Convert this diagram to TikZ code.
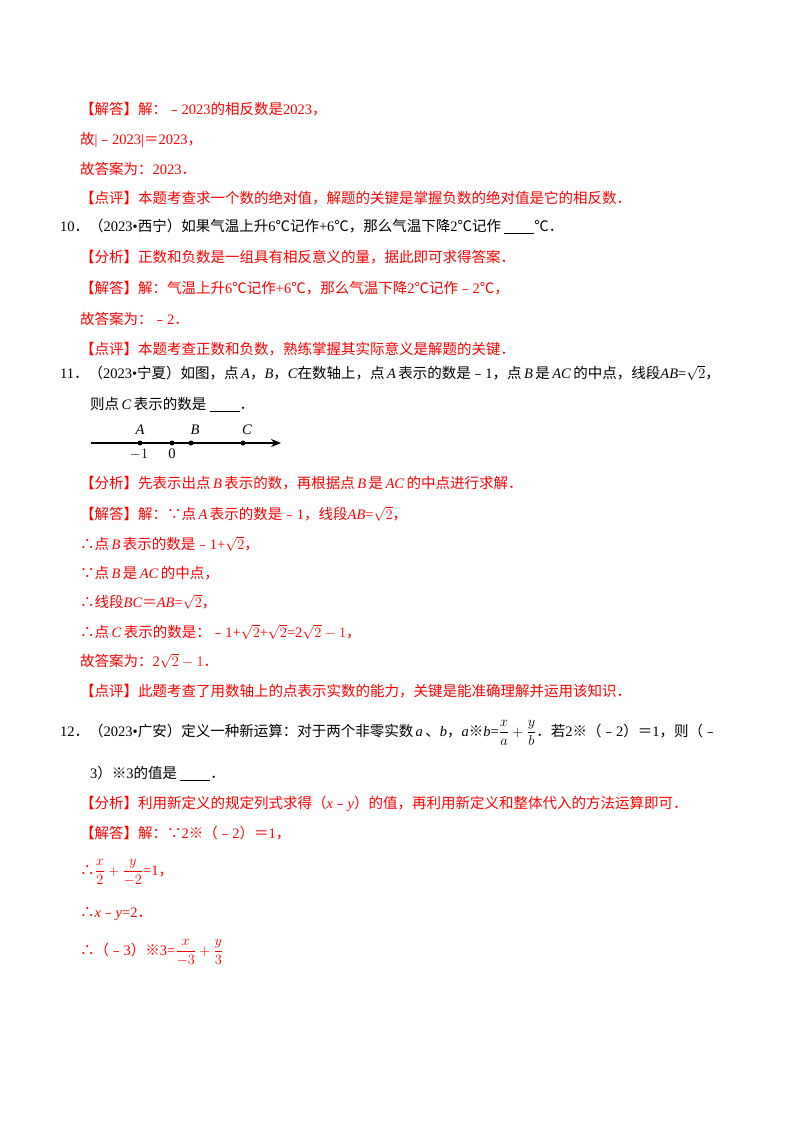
\documentclass[tikz,border=0pt]{standalone}
\usepackage{amsmath}
\usepackage{fontspec}
\setmainfont{Liberation Serif}
\newfontfamily\cjk{Noto Sans CJK SC}
\usetikzlibrary{arrows.meta}
% switch to the CJK family for Chinese characters
\XeTeXinterchartokenstate=1
\newXeTeXintercharclass\cjkcls
\count255="3000
\loop\ifnum\count255<"A000 \XeTeXcharclass\count255=\cjkcls \advance\count255 by 1 \repeat
\count255="FE30
\loop\ifnum\count255<"FFF0 \XeTeXcharclass\count255=\cjkcls \advance\count255 by 1 \repeat
\XeTeXcharclass"2103=\cjkcls
\XeTeXcharclass"203B=\cjkcls
\XeTeXcharclass"2234=\cjkcls
\XeTeXcharclass"2235=\cjkcls
\XeTeXinterchartoks 0 \cjkcls = {\cjk}
\XeTeXinterchartoks 4095 \cjkcls = {\cjk}
\XeTeXinterchartoks \cjkcls 0 = {\rmfamily}
\XeTeXinterchartoks 4095 0 = {\rmfamily}
\newcommand{\blank}{\underline{\hspace{30pt}}}
\newcommand{\vi}[1]{\,\textit{#1}\,}
\newcommand{\vl}[1]{\,\textit{#1}}
\tikzset{
  txt/.style={anchor=base west, inner sep=0pt, font=\fontsize{14.5}{17}\selectfont},
  ans/.style={txt, text=red},
  dot/.style={circle, fill, inner sep=0pt, minimum size=5pt}
}
\begin{document}
\begin{tikzpicture}[x=1pt, y=1pt]
    \useasboundingbox[fill=white] (0,0) rectangle (800,-1132);

    % question 9 (end)
    \node[ans] (a1) at (80,-114) {【解答】解：﹣2023的相反数是2023，};
    \node[ans] (a2) at (80,-144) {故|﹣2023|＝2023，};
    \node[ans] (a3) at (80,-174) {故答案为：2023．};
    \node[ans] (a4) at (80,-203) {【点评】本题考查求一个数的绝对值，解题的关键是掌握负数的绝对值是它的相反数．};

    % question 10
    \node[txt] (q10) at (60,-231) {10．（2023•西宁）如果气温上升6℃记作+6℃，那么气温下降2℃记作 \blank℃．};
    \node[ans] (b1) at (80,-262) {【分析】正数和负数是一组具有相反意义的量，据此即可求得答案．};
    \node[ans] (b2) at (80,-293) {【解答】解：气温上升6℃记作+6℃，那么气温下降2℃记作﹣2℃，};
    \node[ans] (b3) at (80,-324) {故答案为：﹣2．};
    \node[ans] (b4) at (80,-354) {【点评】本题考查正数和负数，熟练掌握其实际意义是解题的关键．};

    % question 11
    \node[txt] (q11) at (60,-378) {11．（2023•宁夏）如图，点\vl{A}，\textit{B}，\textit{C}在数轴上，点\vi{A}表示的数是﹣1，点\vi{B}是\vi{AC}的中点，线段\textit{AB}=$\sqrt{2}$，};
    \node[txt] (q11b) at (90,-409) {则点\vi{C}表示的数是 \blank．};

    % number line
    \coordinate (start) at (91,-443);
    \coordinate (tip) at (281,-443);
    \draw[line width=1.2pt, -{Stealth[length=10pt, width=8pt]}] (start) -- (tip);
    \node[dot] (pA) at (140,-443) {};
    \node[dot] (p0) at (172,-443) {};
    \node[dot] (pB) at (191,-443) {};
    \node[dot] (pC) at (243,-443) {};
    \node[txt, anchor=south] (lA) at (140,-435) {\textit{A}};
    \node[txt, anchor=south] (lB) at (195,-435) {\textit{B}};
    \node[txt, anchor=south] (lC) at (247,-435) {\textit{C}};
    \node[txt, anchor=north] (lm1) at (139,-449) {$-1$};
    \node[txt, anchor=north] (l0) at (172,-449) {0};

    \node[ans] (c1) at (80,-488) {【分析】先表示出点\vi{B}表示的数，再根据点\vi{B}是\vi{AC}的中点进行求解．};
    \node[ans] (c2) at (80,-519) {【解答】解：∵点\vi{A}表示的数是﹣1，线段\textit{AB}=$\sqrt{2}$，};
    \node[ans] (c3) at (80,-549) {∴点\vi{B}表示的数是﹣1+$\sqrt{2}$，};
    \node[ans] (c4) at (80,-578) {∵点\vi{B}是\vi{AC}的中点，};
    \node[ans] (c5) at (80,-607) {∴线段\textit{BC}＝\textit{AB}=$\sqrt{2}$，};
    \node[ans] (c6) at (80,-637) {∴点\vi{C}表示的数是：﹣1+$\sqrt{2}$+$\sqrt{2}$=2$\sqrt{2}-1$，};
    \node[ans] (c7) at (80,-666) {故答案为：2$\sqrt{2}-1$．};
    \node[ans] (c8) at (80,-696) {【点评】此题考查了用数轴上的点表示实数的能力，关键是能准确理解并运用该知识．};

    % question 12
    \node[txt] (q12) at (60,-736) {12．（2023•广安）定义一种新运算：对于两个非零实数\vi{a}、\textit{b}，\textit{a}※\textit{b}=$\dfrac{x}{a}+\dfrac{y}{b}$．若2※（﹣2）＝1，则（﹣};
    \node[txt] (q12b) at (90,-778) {3）※3的值是 \blank．};
    \node[ans] (d1) at (80,-808) {【分析】利用新定义的规定列式求得（\textit{x}﹣\textit{y}）的值，再利用新定义和整体代入的方法运算即可．};
    \node[ans] (d2) at (80,-838) {【解答】解：∵2※（﹣2）＝1，};
    \node[ans] (d3) at (80,-875) {∴$\dfrac{x}{2}+\dfrac{y}{-2}$=1，};
    \node[ans] (d4) at (80,-917) {∴\textit{x}﹣\textit{y}=2．};
    \node[ans] (d5) at (80,-955) {∴（﹣3）※3=$\dfrac{x}{-3}+\dfrac{y}{3}$};
\end{tikzpicture}
\end{document}
